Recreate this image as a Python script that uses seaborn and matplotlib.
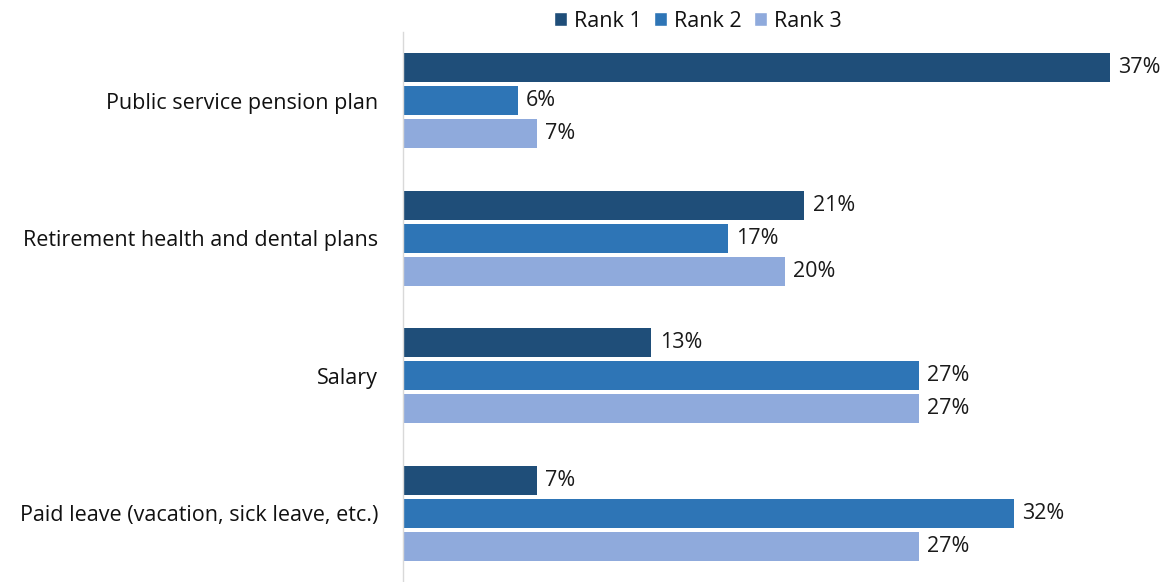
import matplotlib
matplotlib.use("Agg")
import matplotlib.pyplot as plt
import seaborn as sns
import pandas as pd
from matplotlib.patches import Patch

categories = [
    "Public service pension plan",
    "Retirement health and dental plans",
    "Salary",
    "Paid leave (vacation, sick leave, etc.)",
]
ranks = ["Rank 1", "Rank 2", "Rank 3"]
rank1 = [37, 21, 13, 7]
rank2 = [6, 17, 27, 32]
rank3 = [7, 20, 27, 27]
colors = ["#1F4E79", "#2E75B6", "#8FAADC"]

rows = []
for rank, vals in zip(ranks, [rank1, rank2, rank3]):
    for cat, v in zip(categories, vals):
        rows.append({"Benefit": cat, "Rank": rank, "Percent": v})
df = pd.DataFrame(rows)

sns.set_theme(style="white")
plt.rcParams["font.family"] = ["Open Sans", "DejaVu Sans"]

fig = plt.figure(figsize=(11.69, 5.82), dpi=100)
ax = fig.add_axes([0.345, 0.0, 0.645, 0.945])

sns.barplot(
    data=df, y="Benefit", x="Percent", hue="Rank", order=categories,
    hue_order=ranks, palette=colors, orient="h", width=0.72, gap=0.13,
    saturation=1, linewidth=0, legend=False, ax=ax,
)

for container in ax.containers:
    ax.bar_label(container, labels=[f"{v:.0f}%" for v in container.datavalues],
                 padding=6, fontsize=15.5, color="#1a1a1a")

ax.set_xlim(0, 39.5)
ax.set_ylim(3.5, -0.5)
ax.set_xlabel("")
ax.set_ylabel("")
ax.set_xticks([])
ax.tick_params(axis="y", length=0, pad=18, labelsize=15.5, labelcolor="#111111")
for side in ["top", "right", "bottom"]:
    ax.spines[side].set_visible(False)
ax.spines["left"].set_color("#d9d9d9")
ax.spines["left"].set_linewidth(1)

handles = [Patch(facecolor=c, label=r) for c, r in zip(colors, ranks)]
fig.legend(handles=handles, loc="upper center", bbox_to_anchor=(0.597, 1.015),
           ncol=3, frameon=False, fontsize=15.5, handlelength=0.6,
           handleheight=0.6, handletextpad=0.3, columnspacing=0.6,
           labelcolor="#111111")

fig.savefig("out.png", dpi=100)
